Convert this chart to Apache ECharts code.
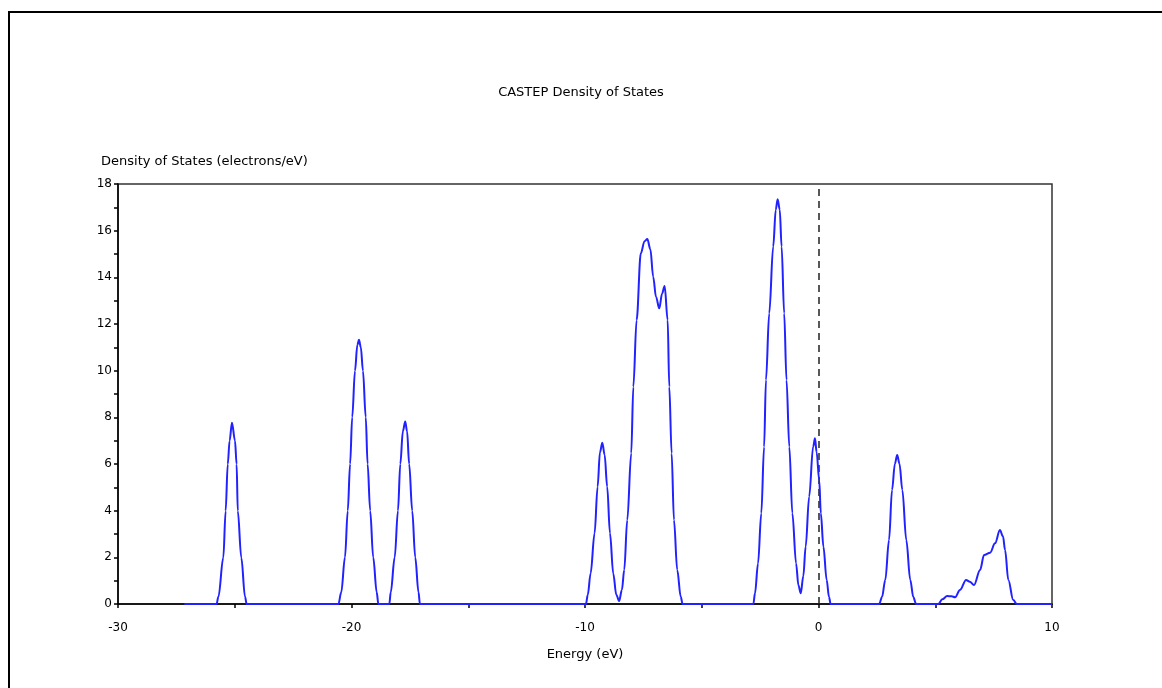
<!DOCTYPE html>
<html>
<head>
<meta charset="utf-8">
<script src="https://cdn.jsdelivr.net/npm/echarts@6/dist/echarts.min.js"></script>
<style>
html,body{margin:0;padding:0;background:#fff;}
#chart{width:1162px;height:688px;}
</style>
</head>
<body>
<div id="chart"></div>
<script>
// Energy (eV) sample points
const energy = [
  -27.16,
  -25.78, -25.70, -25.49, -25.39, -25.30, -25.22, -25.12, -24.99, -24.92, -24.87, -24.72, -24.56, -24.49,
  -20.56, -20.44, -20.28, -20.16, -20.06, -19.97, -19.85, -19.75, -19.68, -19.60, -19.51, -19.39, -19.31, -19.20, -19.07, -18.92, -18.85,
  -18.38, -18.32, -18.15, -18.01, -17.91, -17.80, -17.70, -17.62, -17.53, -17.40, -17.27, -17.13, -17.07,
  -9.96, -9.88, -9.76, -9.59, -9.46, -9.36, -9.26, -9.16, -9.05, -8.93, -8.79, -8.66, -8.54,
  -8.42, -8.32, -8.19, -8.02, -7.93, -7.79, -7.61, -7.45, -7.33, -7.20, -7.08, -6.96, -6.82, -6.70, -6.59,
  -6.46, -6.39, -6.29, -6.19, -6.05, -5.90, -5.82,
  -2.79, -2.72, -2.59, -2.45, -2.33, -2.25, -2.11, -1.94, -1.83, -1.75, -1.66, -1.58, -1.47, -1.37, -1.25, -1.12, -0.96, -0.86, -0.76,
  -0.65, -0.55, -0.40, -0.23, -0.15, -0.08, 0.03, 0.10, 0.21, 0.35, 0.45, 0.52,
  2.60, 2.72, 2.86, 3.02, 3.15, 3.27, 3.37, 3.47, 3.59, 3.76, 3.93, 4.06, 4.18,
  5.13, 5.30, 5.51, 5.70, 5.85, 6.06, 6.32, 6.48, 6.66, 6.92, 7.09, 7.35, 7.56, 7.77, 7.90, 7.99, 8.13, 8.34, 8.49,
  10.0
];
// Density of states (electrons/eV) at those energies
const dos = [
  0,
  0, 0.31, 1.99, 3.99, 5.99, 7.00, 7.77, 7.00, 5.99, 3.99, 1.99, 0.31, 0,
  0, 0.50, 2.00, 4.00, 6.00, 8.00, 10.00, 11.10, 11.32, 11.00, 10.00, 8.00, 6.00, 4.00, 2.00, 0.50, 0,
  0, 0.50, 2.00, 4.00, 6.00, 7.40, 7.82, 7.40, 6.00, 4.00, 2.00, 0.50, 0,
  0, 0.40, 1.31, 3.03, 5.03, 6.50, 6.91, 6.40, 5.03, 3.03, 1.31, 0.40, 0.13,
  0.60, 1.46, 3.60, 6.46, 9.31, 12.17, 15.03, 15.55, 15.64, 15.20, 14.03, 13.17, 12.67, 13.30, 13.63,
  12.17, 9.31, 6.46, 3.60, 1.46, 0.31, 0,
  0, 0.46, 1.74, 3.89, 6.74, 9.60, 12.46, 15.32, 16.90, 17.35, 16.90, 15.32, 12.46, 9.60, 6.74, 3.89, 1.74, 0.80, 0.46,
  1.20, 2.46, 4.60, 6.74, 7.10, 6.50, 5.31, 3.89, 2.46, 1.03, 0.30, 0,
  0, 0.30, 1.03, 2.74, 4.89, 6.00, 6.39, 6.00, 4.89, 2.74, 1.03, 0.30, 0,
  0, 0.20, 0.34, 0.33, 0.29, 0.60, 1.03, 0.95, 0.81, 1.46, 2.10, 2.20, 2.60, 3.17, 2.90, 2.31, 1.03, 0.17, 0,
  0
];
const fermiLevel = 0;
const xRange = [-30, 10];
const yRange = [0, 18];

const titleText = 'CASTEP Density of States';
const xName = 'Energy (eV)';
const yName = 'Density of States (electrons/eV)';

const FONT = 'DejaVu Sans';
const points = energy.map((e, i) => [e, dos[i]]);

const chart = echarts.init(document.getElementById('chart'), null, {renderer: 'canvas'});
const tickStyle = {color: '#000', width: 1.5};
chart.setOption({
  animation: false,
  backgroundColor: '#fff',
  title: {
    text: titleText, left: 'center', top: 81,
    textStyle: {fontFamily: FONT, fontSize: 13, fontWeight: 'normal', color: '#000'}
  },
  grid: {left: 118, right: 110, top: 184, bottom: 84, show: true, borderColor: '#333', borderWidth: 1.5, backgroundColor: 'transparent'},
  xAxis: {
    type: 'value', min: xRange[0], max: xRange[1], interval: 10,
    splitLine: {show: false},
    position: 'bottom',
    name: xName, nameLocation: 'middle', nameGap: 44,
    nameTextStyle: {fontFamily: FONT, fontSize: 13, color: '#000'},
    axisLine: {show: true, onZero: false, lineStyle: {color: '#000', width: 1.5}},
    axisTick: {show: true, length: 4, lineStyle: tickStyle},
    minorTick: {show: true, splitNumber: 2, length: 4, lineStyle: tickStyle},
    axisLabel: {margin: 18, fontFamily: FONT, fontSize: 12, color: '#000'}
  },
  yAxis: {
    type: 'value', min: yRange[0], max: yRange[1], interval: 2,
    splitLine: {show: false},
    position: 'left',
    name: yName, nameLocation: 'end', nameGap: 16,
    nameTextStyle: {fontFamily: FONT, fontSize: 13, color: '#000', align: 'left', padding: [0, 0, 0, -17]},
    axisLine: {show: true, onZero: false, lineStyle: {color: '#000', width: 1.5}},
    axisTick: {show: true, length: 4, lineStyle: tickStyle},
    minorTick: {show: true, splitNumber: 2, length: 4, lineStyle: tickStyle},
    axisLabel: {margin: 6, fontFamily: FONT, fontSize: 12, color: '#000'}
  },
  graphic: [{
    type: 'rect', silent: true, z: 100,
    shape: {x: 9, y: 12, width: 1300, height: 900},
    style: {fill: 'none', stroke: '#000', lineWidth: 2}
  }],
  series: [{
    type: 'line',
    data: points,
    showSymbol: false,
    smooth: 0.35,
    smoothMonotone: 'x',
    lineStyle: {color: '#2222ff', width: 2},
    z: 5,
    markLine: {
      silent: true,
      symbol: ['none', 'none'],
      label: {show: false},
      lineStyle: {color: '#222', type: [7, 5], width: 1.5},
      data: [{xAxis: fermiLevel}]
    }
  }]
});
</script>
</body>
</html>
